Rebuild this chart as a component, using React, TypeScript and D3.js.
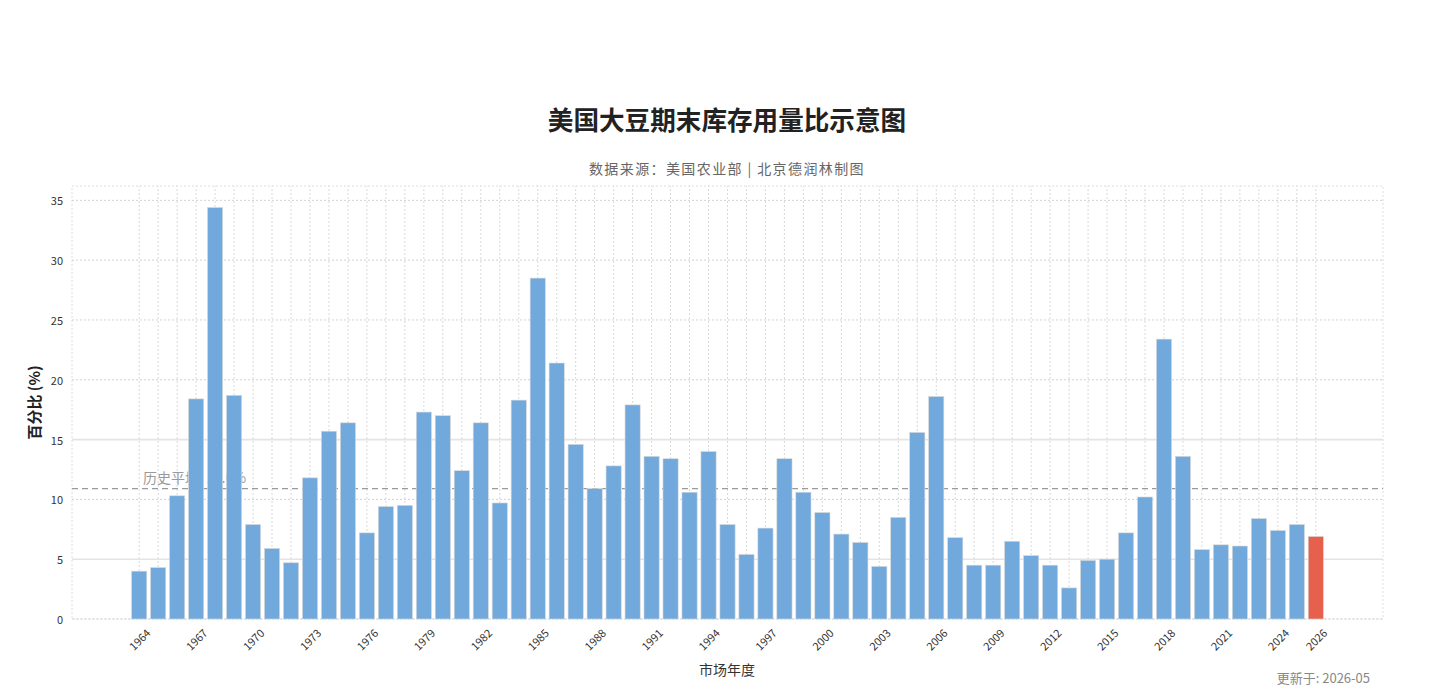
import React, { useEffect, useRef } from "react";
import * as d3 from "d3";

// market years 1964..2026
const years = d3.range(1964, 2027);
const ratios = [
  4.0, 4.3, 10.3, 18.4, 34.4, 18.7, 7.9, 5.9, 4.7, 11.8,
  15.7, 16.4, 7.2, 9.4, 9.5, 17.3, 17.0, 12.4, 16.4, 9.7,
  18.3, 28.5, 21.4, 14.6, 10.9, 12.8, 17.9, 13.6, 13.4, 10.6,
  14.0, 7.9, 5.4, 7.6, 13.4, 10.6, 8.9, 7.1, 6.4, 4.4,
  8.5, 15.6, 18.6, 6.8, 4.5, 4.5, 6.5, 5.3, 4.5, 2.6,
  4.9, 5.0, 7.2, 10.2, 23.4, 13.6, 5.8, 6.2, 6.1, 8.4,
  7.4, 7.9, 6.9,
];
const tickYears = [...d3.range(1964, 2025, 3), 2026];
const yTicks = [0, 5, 10, 15, 20, 25, 30, 35];
const historicalAvg = 10.9;

const title = "美国大豆期末库存用量比示意图";
const subtitle = "数据来源：美国农业部 | 北京德润林制图";
const avgLabel = "历史平均: 11.0%";
const updated = "更新于: 2026-05";

const W = 1450;
const H = 698;
const FONT = "'Noto Sans CJK SC', 'Noto Sans', sans-serif";

const App = () => {
  const svgRef = useRef<SVGSVGElement | null>(null);

  useEffect(() => {
    const margin = { top: 186, right: 67, bottom: 79, left: 72 };
    const svg = d3.select(svgRef.current).attr("width", W).attr("height", H);
    svg.selectAll("*").remove();

    const x = d3
      .scaleLinear()
      .domain([1960.46, 2029.54])
      .range([margin.left, W - margin.right]);
    const y = d3
      .scaleLinear()
      .domain([0, 36.2])
      .range([H - margin.bottom, margin.top]);
    const bw = x(1964.4) - x(1963.6);

    const plot = svg.append("g");

    // grid
    plot
      .selectAll("line.vgrid")
      .data(years)
      .enter()
      .append("line")
      .attr("x1", (d) => x(d))
      .attr("x2", (d) => x(d))
      .attr("y1", y.range()[0])
      .attr("y2", y.range()[1])
      .attr("stroke", "#cfcfcf")
      .attr("stroke-width", 0.8)
      .attr("stroke-dasharray", "2,2");

    plot
      .selectAll("line.hgrid")
      .data(yTicks)
      .enter()
      .append("line")
      .attr("x1", x.range()[0])
      .attr("x2", x.range()[1])
      .attr("y1", (d) => y(d))
      .attr("y2", (d) => y(d))
      .attr("stroke", (d) => (d === 5 || d === 15 ? "#e4e4e4" : "#c8c8c8"))
      .attr("stroke-width", (d) => (d === 5 || d === 15 ? 1.6 : 0.8))
      .attr("stroke-dasharray", (d) => (d === 5 || d === 15 ? null : "2,2"));

    // frame
    plot
      .append("rect")
      .attr("x", x.range()[0])
      .attr("y", y.range()[1])
      .attr("width", x.range()[1] - x.range()[0])
      .attr("height", y.range()[0] - y.range()[1])
      .attr("fill", "none")
      .attr("stroke", "#d6d6d6")
      .attr("stroke-width", 0.8)
      .attr("stroke-dasharray", "2,2");

    // average line + label (drawn under bars)
    plot
      .append("line")
      .attr("x1", x.range()[0])
      .attr("x2", x.range()[1])
      .attr("y1", y(historicalAvg))
      .attr("y2", y(historicalAvg))
      .attr("stroke", "#9a9a9a")
      .attr("stroke-width", 1.4)
      .attr("stroke-dasharray", "6,4");

    plot
      .append("text")
      .attr("x", x(1964.2))
      .attr("y", y(historicalAvg) - 6)
      .attr("font-family", FONT)
      .attr("font-size", 14)
      .attr("fill", "#9a9a9a")
      .text(avgLabel);

    // bars
    plot
      .selectAll("rect.bar")
      .data(years)
      .enter()
      .append("rect")
      .attr("x", (d) => x(d) - bw / 2)
      .attr("width", bw)
      .attr("y", (d, i) => y(ratios[i]))
      .attr("height", (d, i) => y(0) - y(ratios[i]))
      .attr("fill", (d) => (d === 2026 ? "#e6604d" : "#72a9dc"))
      .attr("stroke", "#d9d9d9")
      .attr("stroke-width", 0.6);

    // y ticks
    plot
      .selectAll("text.ytick")
      .data(yTicks)
      .enter()
      .append("text")
      .attr("x", x.range()[0] - 9)
      .attr("y", (d) => y(d))
      .attr("text-anchor", "end")
      .attr("dominant-baseline", "central")
      .attr("font-family", FONT)
      .attr("font-size", 11)
      .attr("fill", "#333")
      .text((d) => d);

    // x ticks
    plot
      .selectAll("text.xtick")
      .data(tickYears)
      .enter()
      .append("text")
      .attr("transform", (d) => `translate(${x(d)},${y(0) + 20}) rotate(-45)`)
      .attr("text-anchor", "middle")
      .attr("dominant-baseline", "central")
      .attr("font-family", FONT)
      .attr("font-size", 11)
      .attr("fill", "#333")
      .text((d) => d);

    // titles
    svg
      .append("text")
      .attr("x", 727)
      .attr("y", 130)
      .attr("text-anchor", "middle")
      .attr("font-family", FONT)
      .attr("font-size", 25.6)
      .attr("font-weight", "bold")
      .attr("fill", "#222")
      .text(title);

    svg
      .append("text")
      .attr("x", 727)
      .attr("y", 174)
      .attr("text-anchor", "middle")
      .attr("font-family", FONT)
      .attr("font-size", 14)
      .attr("letter-spacing", 1.4)
      .attr("fill", "#666")
      .text(subtitle);

    svg
      .append("text")
      .attr("transform", `translate(40,${(y(0) + y(36.2)) / 2}) rotate(-90)`)
      .attr("text-anchor", "middle")
      .attr("font-family", FONT)
      .attr("font-size", 15)
      .attr("font-weight", "bold")
      .attr("fill", "#222")
      .text("百分比 (%)");

    svg
      .append("text")
      .attr("x", 727)
      .attr("y", 675)
      .attr("text-anchor", "middle")
      .attr("font-family", FONT)
      .attr("font-size", 14)
      .attr("fill", "#333")
      .text("市场年度");

    svg
      .append("text")
      .attr("x", 1370)
      .attr("y", 683)
      .attr("text-anchor", "end")
      .attr("font-family", FONT)
      .attr("font-size", 13)
      .attr("fill", "#888")
      .text(updated);
  }, []);

  return (
    <svg
      ref={svgRef}
      style={{ position: "absolute", left: 0, top: 0, background: "#fff" }}
    ></svg>
  );
};

export default App;
